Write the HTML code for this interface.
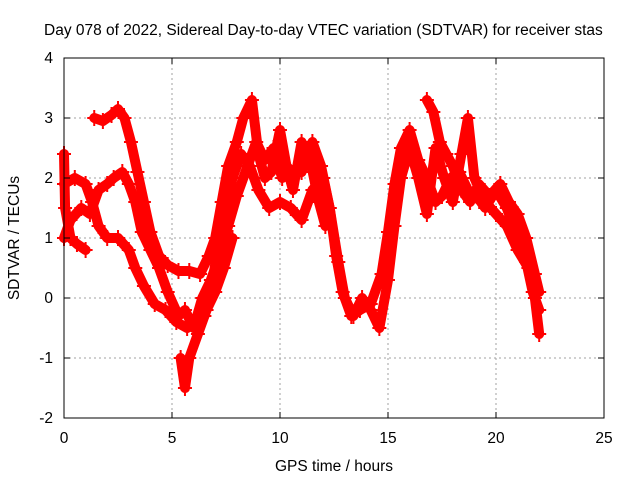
<!DOCTYPE html>
<html><head><meta charset="utf-8"><style>
body{margin:0;background:#fff}
svg text{font-family:"Liberation Sans",sans-serif;font-size:15.5px;fill:#000}
</style></head><body>
<svg id="chart" width="640" height="480">
<text x="44" y="35">Day 078 of 2022, Sidereal Day-to-day VTEC variation (SDTVAR) for receiver stas</text>
<g id="grid"></g>
<g id="series"></g>
<rect x="64" y="58" width="540" height="360" fill="none" stroke="#000" stroke-width="1"/>
<g id="axes"></g>
<text x="334" y="471" text-anchor="middle">GPS time / hours</text>
<text transform="translate(19,238) rotate(-90)" text-anchor="middle">SDTVAR / TECUs</text>
</svg>
<script>
const xTicks=[0,5,10,15,20,25];
const yTicks=[-2,-1,0,1,2,3,4];
const trackAx=[1.4,1.8,2.2,2.5,2.8,3.1,3.4,3.7,4.0,4.4,4.8,5.3,5.8,6.3,6.7,7.0,7.3,7.6,8.0,8.3,8.7,9.0,9.3,9.6,10.0,10.3,10.6,11.0,11.4,11.8,12.1];
const trackAy=[3.0,2.95,3.05,3.15,3.0,2.6,2.1,1.6,1.1,0.7,0.55,0.45,0.45,0.4,0.7,1.0,1.6,2.2,2.6,3.0,3.3,2.4,2.0,2.1,2.8,2.2,1.8,2.6,2.3,1.6,1.2];
const trackBx=[0,0.5,1.0,1.3,1.6,2.0,2.5,3.0,3.3,3.7,4.2,4.7,5.2,5.7,6.1,6.5,6.8,7.1,7.4,7.8,8.2,8.6,9.0,9.5,10.0,10.5,11.0,11.5,12.0,12.3,12.6,12.9,13.3,13.7,14.2,14.7,15.0,15.3,15.6,16.0,16.4,16.8,17.2,17.5,17.9,18.3,18.7,19.1,19.5,20.0,20.5,21.0,21.4,21.7,22.0];
const trackBy=[1.9,2.0,1.9,1.6,1.2,1.0,1.0,0.8,0.5,0.2,-0.1,-0.2,-0.4,-0.5,-0.4,-0.3,0.1,0.8,1.4,2.0,2.4,2.2,1.8,1.5,1.6,1.5,1.3,1.8,2.0,1.5,0.7,0.1,-0.3,-0.2,-0.1,0.4,1.1,1.9,2.5,2.8,2.3,2.0,1.6,1.7,2.0,2.1,1.8,1.7,1.5,1.8,1.5,1.0,0.6,0.1,-0.2];
const trackCx=[0,0.3,0.8,1.2,1.6,2.0,2.3,2.7,3.0,3.3,3.6,4.0,4.4,4.8,5.3,5.6,6.0,6.4,6.8,7.2,7.6,8.0,8.5,8.9,9.3,9.7,10.1,10.5,11.0,11.5,11.9,12.3,12.7,13.0,13.4,13.8,14.2,14.6,15.0,15.3,15.6,16.0,16.4,16.8,17.2,17.6,18.0,18.4,18.7,19.0,19.5,20.0,20.5,21.0,21.5,21.8,22.0];
const trackCy=[1.0,1.3,1.5,1.4,1.8,1.9,2.0,2.1,1.9,1.6,1.1,0.8,0.5,0.1,-0.3,-0.2,-0.5,0.0,0.3,0.7,1.2,1.7,2.2,2.6,2.3,2.5,2.0,2.1,2.1,2.6,2.2,1.5,0.6,0.0,-0.3,0.0,-0.2,-0.5,0.3,1.2,2.0,2.5,2.0,1.4,2.5,2.0,1.6,2.4,3.0,2.0,1.6,1.4,1.2,0.8,0.5,0.0,-0.6];
const trackDx=[0,0.05,0.3,0.6,1.0];
const trackDy=[2.4,1.5,1.0,0.9,0.8];
const trackEx=[5.4,5.6,5.8,6.2,6.6,7.0,7.4,7.8];
const trackEy=[-1.0,-1.5,-1.0,-0.6,-0.2,0.1,0.5,1.0];
const trackFx=[16.8,17.1,17.4,17.7,18.0,18.4,18.8,19.2,19.7,20.2,20.6,21.0,21.4,21.8,22.0];
const trackFy=[3.3,3.1,2.6,2.4,2.2,1.8,1.6,1.9,1.7,1.9,1.6,1.4,1.0,0.4,0.1];
const tracks=[[trackAx,trackAy],[trackBx,trackBy],[trackCx,trackCy],[trackDx,trackDy],[trackEx,trackEy],[trackFx,trackFy]];
const NS='http://www.w3.org/2000/svg';
function sx(v){return 64+v*21.6;}
function sy(v){return 418-(v+2)*60;}
function mk(t,a){const e=document.createElementNS(NS,t);for(const k in a)e.setAttribute(k,a[k]);return e;}
const grid=document.getElementById('grid'),axes=document.getElementById('axes'),ser=document.getElementById('series');
xTicks.forEach(v=>{const x=sx(v);
 if(v>0&&v<25){const g=mk('line',{x1:x,y1:58,x2:x,y2:418,stroke:'#a0a0a0','stroke-dasharray':'2,3'});
 
 grid.appendChild(g);}
 axes.appendChild(mk('line',{x1:x,y1:418,x2:x,y2:412,stroke:'#000'}));
 axes.appendChild(mk('line',{x1:x,y1:58,x2:x,y2:64,stroke:'#000'}));
 const t=mk('text',{x:x,y:443,'text-anchor':'middle'});t.textContent=v;
 
 axes.appendChild(t);});
yTicks.forEach(v=>{const y=sy(v);
 if(v>-2&&v<4){const g=mk('line',{x1:64,y1:y,x2:604,y2:y,stroke:'#a0a0a0','stroke-dasharray':'2,3'});
 
 grid.appendChild(g);}
 axes.appendChild(mk('line',{x1:64,y1:y,x2:70,y2:y,stroke:'#000'}));
 axes.appendChild(mk('line',{x1:604,y1:y,x2:598,y2:y,stroke:'#000'}));
 const t=mk('text',{x:53,y:y+5,'text-anchor':'end'});t.textContent=v;
 
 axes.appendChild(t);});
tracks.forEach((tr,i)=>{const xs=tr[0],ys=tr[1];
 const pts=xs.map((x,j)=>sx(x)+','+sy(ys[j])).join(' ');
 const pl=mk('polyline',{points:pts,fill:'none',stroke:'#ff0000','stroke-width':10,'stroke-linejoin':'round','stroke-linecap':'round'});
 
 ser.appendChild(pl);
 xs.forEach((x,j)=>{const px=sx(x),py=sy(ys[j]);
  const p=mk('path',{d:`M${px-7},${py}h14M${px},${py-8}v16`,stroke:'#ff0000','stroke-width':2});
  
  ser.appendChild(p);});});
</script>
</body></html>
